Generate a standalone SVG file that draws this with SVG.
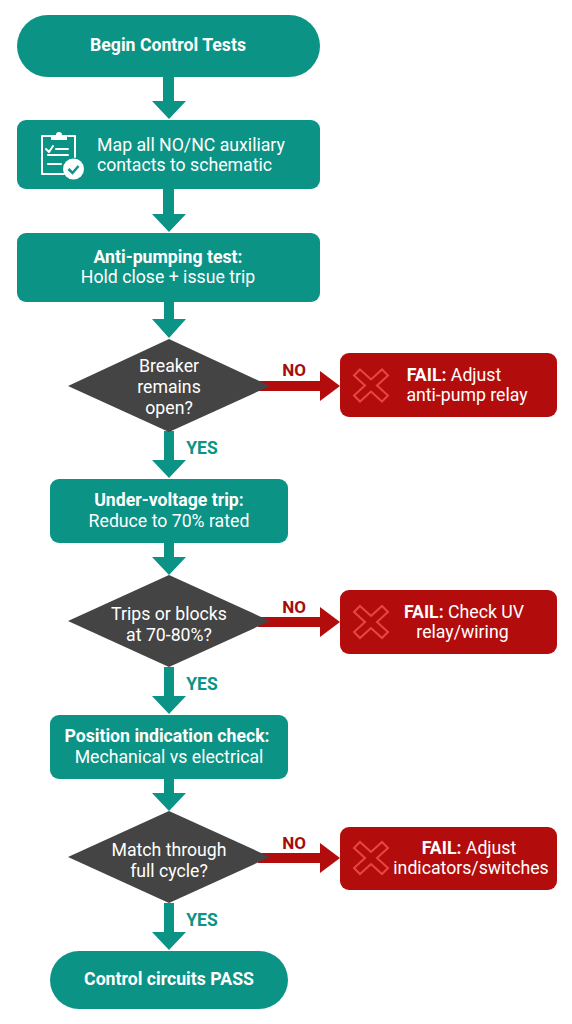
<svg xmlns="http://www.w3.org/2000/svg" xmlns:xlink="http://www.w3.org/1999/xlink" width="572" height="1024" viewBox="0 0 572 1024">
<style>
text{font-family:Roboto,"Liberation Sans",sans-serif;fill:#fff;text-anchor:middle;font-size:17.7px}
.b{font-weight:700}
.teal{fill:#0b9385}.dark{fill:#444}.red{fill:#b30c0c}
.yes{fill:#0b9385;font-weight:700;font-size:17.5px}
.no{fill:#a50d0d;font-weight:700;font-size:17px}
.x{fill:none;stroke:#e8473f;stroke-width:2;stroke-linejoin:miter}
.ic{fill:none;stroke:#fff;stroke-width:2;stroke-linecap:round;stroke-linejoin:round}
</style>
<defs>
<path id="d" class="x" d="M-11-16L0-6 11-16 17-10 6 0 17 10 11 16 0 6-11 16-17 10-6 0-17-10Z"/>
</defs>
<rect width="572" height="1024" fill="#fff"/>
<g id="connectors">
<path class="teal" d="M163 76h11v25h12l-17 18-17-18h11z"/>
<path class="teal" d="M163 189h11v25h12l-17 18-17-18h11z"/>
<path class="teal" d="M164 301h10v18h12l-17 19-17-19h12z"/>
<path class="teal" d="M164 431h10v29h12l-17 18-17-18h12z"/>
<path class="teal" d="M164 542h10v15h12l-17 18-17-18h12z"/>
<path class="teal" d="M164 667h10v29h12l-17 18-17-18h12z"/>
<path class="teal" d="M164 778h10v15h12l-17 18-17-18h12z"/>
<path class="teal" d="M164 903h10v29h12l-17 18-17-18h12z"/>
<path class="red" d="M258 381h62v-10l20 15-20 15v-10h-62z"/>
<path class="red" d="M258 617h62v-10l20 15-20 15v-10h-62z"/>
<path class="red" d="M258 853h62v-10l20 15-20 15v-10h-62z"/>
<text class="no" x="294" y="376">NO</text>
<text class="no" x="294" y="613">NO</text>
<text class="no" x="294" y="849">NO</text>
<text class="yes" x="202" y="454">YES</text>
<text class="yes" x="202" y="690">YES</text>
<text class="yes" x="202" y="926">YES</text>
</g>
<g id="start"><rect class="teal" x="17" y="15" width="303" height="62" rx="31"/><text class="b" x="168" y="51">Begin Control Tests</text></g>
<g id="map"><rect class="teal" x="17" y="120" width="303" height="69" rx="9"/>
<g id="icon"><path class="ic" d="M51 136h-9v38h22M68 136h7v21"/><path d="M51 140v-5h5a3 3 0 1 1 6 0h5v5z" fill="#fff"/><path class="ic" d="M46 149l3 3 4-6M56 149h12M48 155h20M48 164h13"/><circle cx="73.500" cy="169" r="10.500" fill="#fff"/><path d="M68.500 169l4 4 6-7" fill="none" stroke="#0b9385" stroke-width="2.500"/></g>
<text x="191" y="151">Map all NO/NC auxiliary</text><text x="184.500" y="171">contacts to schematic</text></g>
<g id="anti"><rect class="teal" x="17" y="233" width="303" height="69" rx="9"/><text class="b" x="168" y="263">Anti-pumping test:</text><text x="168" y="283">Hold close + issue trip</text></g>
<g id="q1"><path class="dark" d="M169 339l101 47-101 46-101-46z"/><text x="169" y="372">Breaker</text><text x="169" y="393">remains</text><text x="169" y="414">open?</text></g>
<g id="f1"><rect class="red" x="340" y="353" width="217" height="64" rx="9"/><use xlink:href="#d" x="371" y="385.500"/><text x="454" y="381"><tspan class="b">FAIL:</tspan> Adjust</text><text x="467" y="401">anti-pump relay</text></g>
<g id="uv"><rect class="teal" x="50" y="479" width="238" height="64" rx="9"/><text class="b" x="169" y="506">Under-voltage trip:</text><text x="169" y="527">Reduce to 70% rated</text></g>
<g id="q2"><path class="dark" d="M169 575l101 46-101 46-101-46z"/><text x="169" y="620">Trips or blocks</text><text x="169" y="641">at 70-80%?</text></g>
<g id="f2"><rect class="red" x="340" y="590" width="217" height="64" rx="9"/><use xlink:href="#d" x="371" y="622"/><text x="464" y="618"><tspan class="b">FAIL:</tspan> Check UV</text><text x="462.500" y="638">relay/wiring</text></g>
<g id="pos"><rect class="teal" x="50" y="715" width="238" height="64" rx="9"/><text class="b" x="167" y="742">Position indication check:</text><text x="169" y="763">Mechanical vs electrical</text></g>
<g id="q3"><path class="dark" d="M169 811l101 46-101 46-101-46z"/><text x="169" y="856">Match through</text><text x="169" y="877">full cycle?</text></g>
<g id="f3"><rect class="red" x="340" y="827" width="217" height="63" rx="9"/><use xlink:href="#d" x="371" y="858"/><text x="469" y="854"><tspan class="b">FAIL:</tspan> Adjust</text><text x="471" y="874">indicators/switches</text></g>
<g id="end"><rect class="teal" x="50" y="951" width="238" height="58" rx="29"/><text class="b" x="169" y="985">Control circuits PASS</text></g>
</svg>
